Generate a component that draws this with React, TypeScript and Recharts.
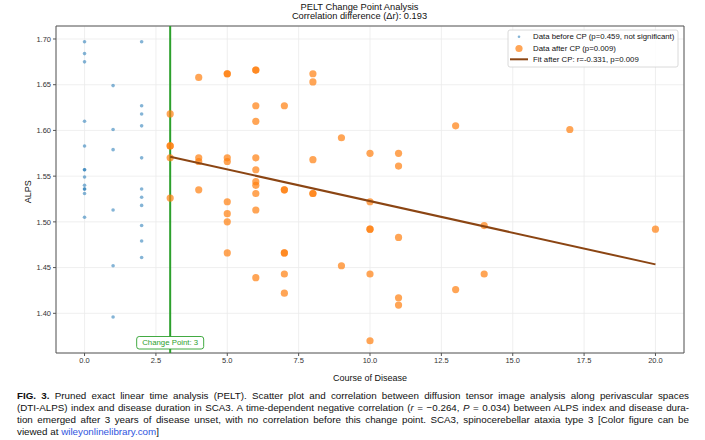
import React from "react";
import {
  ScatterChart,
  Scatter,
  XAxis,
  YAxis,
  CartesianGrid,
  ReferenceLine,
  ReferenceArea,
} from "recharts";

// ALPS index by disease duration, before the change point (years 0-2)
const beforeChangePoint = [
  { x: 0, y: 1.697 }, { x: 0, y: 1.684 }, { x: 0, y: 1.675 }, { x: 0, y: 1.61 },
  { x: 0, y: 1.583 }, { x: 0, y: 1.557 }, { x: 0, y: 1.557 }, { x: 0, y: 1.549 },
  { x: 0, y: 1.54 }, { x: 0, y: 1.536 }, { x: 0, y: 1.536 }, { x: 0, y: 1.531 },
  { x: 0, y: 1.505 },
  { x: 1, y: 1.649 }, { x: 1, y: 1.601 }, { x: 1, y: 1.579 }, { x: 1, y: 1.513 },
  { x: 1, y: 1.452 }, { x: 1, y: 1.396 },
  { x: 2, y: 1.697 }, { x: 2, y: 1.627 }, { x: 2, y: 1.618 }, { x: 2, y: 1.605 },
  { x: 2, y: 1.57 }, { x: 2, y: 1.536 }, { x: 2, y: 1.527 }, { x: 2, y: 1.518 },
  { x: 2, y: 1.496 }, { x: 2, y: 1.479 }, { x: 2, y: 1.461 },
];

// ALPS index from the change point onwards (years 3-20)
const afterChangePoint = [
  { x: 3, y: 1.618 }, { x: 3, y: 1.583 }, { x: 3, y: 1.583 }, { x: 3, y: 1.57 }, { x: 3, y: 1.526 },
  { x: 4, y: 1.658 }, { x: 4, y: 1.57 }, { x: 4, y: 1.566 }, { x: 4, y: 1.535 },
  { x: 5, y: 1.662 }, { x: 5, y: 1.662 }, { x: 5, y: 1.57 }, { x: 5, y: 1.566 },
  { x: 5, y: 1.522 }, { x: 5, y: 1.509 }, { x: 5, y: 1.5 }, { x: 5, y: 1.466 },
  { x: 6, y: 1.666 }, { x: 6, y: 1.666 }, { x: 6, y: 1.627 }, { x: 6, y: 1.61 },
  { x: 6, y: 1.57 }, { x: 6, y: 1.557 }, { x: 6, y: 1.544 }, { x: 6, y: 1.54 },
  { x: 6, y: 1.531 }, { x: 6, y: 1.513 }, { x: 6, y: 1.439 },
  { x: 7, y: 1.627 }, { x: 7, y: 1.535 }, { x: 7, y: 1.535 }, { x: 7, y: 1.466 },
  { x: 7, y: 1.466 }, { x: 7, y: 1.443 }, { x: 7, y: 1.422 },
  { x: 8, y: 1.662 }, { x: 8, y: 1.653 }, { x: 8, y: 1.568 }, { x: 8, y: 1.531 }, { x: 8, y: 1.531 },
  { x: 9, y: 1.592 }, { x: 9, y: 1.452 },
  { x: 10, y: 1.575 }, { x: 10, y: 1.522 }, { x: 10, y: 1.492 }, { x: 10, y: 1.492 },
  { x: 10, y: 1.443 }, { x: 10, y: 1.37 },
  { x: 11, y: 1.575 }, { x: 11, y: 1.561 }, { x: 11, y: 1.483 }, { x: 11, y: 1.417 }, { x: 11, y: 1.409 },
  { x: 13, y: 1.605 }, { x: 13, y: 1.426 },
  { x: 14, y: 1.496 }, { x: 14, y: 1.443 },
  { x: 17, y: 1.601 },
  { x: 20, y: 1.492 },
];

// Linear fit after the change point
const fitLine = [
  { x: 3, y: 1.5712 },
  { x: 20, y: 1.4535 },
];

const changePoint = 3;
const xTicks = [0, 2.5, 5, 7.5, 10, 12.5, 15, 17.5, 20];
const yTicks = [1.4, 1.45, 1.5, 1.55, 1.6, 1.65, 1.7];
const xDomain: [number, number] = [-1, 21];
const yDomain: [number, number] = [1.3566, 1.7142];

const FONT = "'Liberation Sans', Arial, Helvetica, sans-serif";
const BLUE = "#1f77b4";
const ORANGE = "#ff7f0e";
const GREEN = "#2ca02c";
const BROWN = "#8B4513";

const BlueDot = (props: any) => (
  <circle cx={props.cx} cy={props.cy} r={1.8} fill={BLUE} fillOpacity={0.55} />
);
const OrangeDot = (props: any) => (
  <circle cx={props.cx} cy={props.cy} r={3.6} fill={ORANGE} fillOpacity={0.7} />
);
const NoDot = () => <g />;

const ChangePointLabel = (props: any) => {
  const vb = props.viewBox || {};
  const cx = vb.x ?? 0;
  const bottom = (vb.y ?? 0) + (vb.height ?? 0);
  const w = 67;
  const h = 12.5;
  const top = bottom - 16.5;
  return (
    <g>
      <rect
        x={cx - w / 2}
        y={top}
        width={w}
        height={h}
        rx={2.5}
        fill="#fff"
        stroke={GREEN}
        strokeWidth={0.9}
      />
      <text
        x={cx}
        y={top + h / 2}
        textAnchor="middle"
        dominantBaseline="central"
        fontSize={7.8}
        fontFamily={FONT}
        fill={GREEN}
      >
        Change Point: {changePoint}
      </text>
    </g>
  );
};

const captionLine: React.CSSProperties = {
  textAlign: "justify",
  textAlignLast: "justify",
  whiteSpace: "nowrap",
};

export default function App() {
  return (
    <div
      style={{
        position: "absolute",
        left: 0,
        top: 0,
        width: 705,
        height: 440,
        background: "#fff",
        fontFamily: FONT,
        overflow: "hidden",
      }}
    >
      <ScatterChart
        width={705}
        height={385}
        margin={{ top: 26, right: 21, bottom: 5, left: 0 }}
      >
        <CartesianGrid stroke="#ebebeb" strokeWidth={0.8} />
        <XAxis
          type="number"
          dataKey="x"
          domain={xDomain}
          allowDataOverflow
          ticks={xTicks}
          interval={0}
          height={27}
          tickSize={3}
          tickMargin={2}
          tickFormatter={(v: number) => v.toFixed(1)}
          tick={{ fontSize: 7.5, fill: "#333", fontFamily: FONT }}
          tickLine={{ stroke: "#555" }}
          axisLine={false}
        />
        <YAxis
          type="number"
          dataKey="y"
          domain={yDomain}
          allowDataOverflow
          ticks={yTicks}
          interval={0}
          width={56}
          tickSize={3}
          tickMargin={2}
          tickFormatter={(v: number) => v.toFixed(2)}
          tick={{ fontSize: 7.5, fill: "#333", fontFamily: FONT }}
          tickLine={{ stroke: "#555" }}
          axisLine={false}
        />
        <Scatter
          data={beforeChangePoint}
          shape={BlueDot}
          isAnimationActive={false}
        />
        <Scatter
          data={afterChangePoint}
          shape={OrangeDot}
          isAnimationActive={false}
        />
        <ReferenceLine
          x={changePoint}
          stroke={GREEN}
          strokeWidth={2}
          label={<ChangePointLabel />}
        />
        <Scatter
          data={fitLine}
          line={{ stroke: BROWN, strokeWidth: 2 }}
          shape={NoDot}
          isAnimationActive={false}
        />
        <ReferenceArea
          x1={xDomain[0]}
          x2={xDomain[1]}
          y1={yDomain[0]}
          y2={yDomain[1]}
          fill="none"
          fillOpacity={0}
          stroke="#555"
          strokeWidth={1}
        />
      </ScatterChart>

      <svg
        width={705}
        height={390}
        style={{ position: "absolute", left: 0, top: 0, pointerEvents: "none" }}
        fontFamily={FONT}
      >
        <text x={359.5} y={10} textAnchor="middle" fontSize={9.3} fill="#111">
          PELT Change Point Analysis
        </text>
        <text x={359.5} y={19.3} textAnchor="middle" fontSize={9.3} fill="#111">
          Correlation difference (Δr): 0.193
        </text>
        <text
          x={370}
          y={378}
          textAnchor="middle"
          dominantBaseline="central"
          fontSize={9}
          fill="#111"
        >
          Course of Disease
        </text>
        <text
          transform="translate(28 191.7) rotate(-90)"
          textAnchor="middle"
          dominantBaseline="central"
          fontSize={9}
          fill="#111"
        >
          ALPS
        </text>

        {/* legend */}
        <rect
          x={508}
          y={30}
          width={170}
          height={37}
          rx={2}
          fill="#fff"
          fillOpacity={0.85}
          stroke="#d0d0d0"
          strokeWidth={0.8}
        />
        <circle cx={519} cy={36.7} r={1.3} fill={BLUE} fillOpacity={0.55} />
        <text x={533} y={36.7} dominantBaseline="central" fontSize={7.8} fill="#111">
          Data before CP (p=0.459, not significant)
        </text>
        <circle cx={519} cy={48.5} r={3.6} fill={ORANGE} fillOpacity={0.7} />
        <text x={533} y={48.5} dominantBaseline="central" fontSize={7.8} fill="#111">
          Data after CP (p=0.009)
        </text>
        <line x1={510} x2={528} y1={59.3} y2={59.3} stroke={BROWN} strokeWidth={2} />
        <text x={533} y={59.3} dominantBaseline="central" fontSize={7.8} fill="#111">
          Fit after CP: r=-0.331, p=0.009
        </text>
      </svg>

      <div
        style={{
          position: "absolute",
          left: 17,
          top: 389.6,
          width: 672,
          fontSize: 9.8,
          lineHeight: "12.2px",
          color: "#111",
        }}
      >
        <div style={captionLine}>
          <b>FIG. 3.</b> Pruned exact linear time analysis (PELT). Scatter plot and
          correlation between diffusion tensor image analysis along perivascular spaces
        </div>
        <div style={captionLine}>
          (DTI-ALPS) index and disease duration in SCA3. A time-dependent negative
          correlation (<i>r</i> = −0.264, <i>P</i> = 0.034) between ALPS index and disease dura-
        </div>
        <div style={captionLine}>
          tion emerged after 3 years of disease unset, with no correlation before this
          change point. SCA3, spinocerebellar ataxia type 3 [Color figure can be
        </div>
        <div>
          viewed at <span style={{ color: "#2f55e0" }}>wileyonlinelibrary.com</span>]
        </div>
      </div>
    </div>
  );
}
